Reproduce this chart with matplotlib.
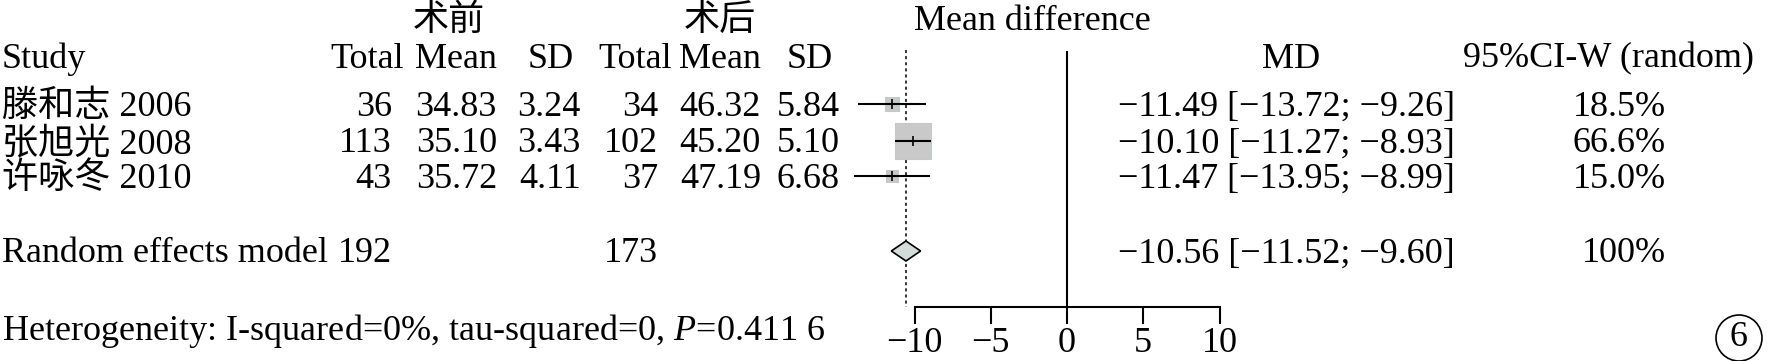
import matplotlib
matplotlib.use('Agg')
import matplotlib.pyplot as plt

plt.rcParams['font.family'] = ['Liberation Serif', 'Noto Sans CJK SC']
plt.rcParams['mathtext.fontset'] = 'custom'
plt.rcParams['mathtext.rm'] = 'Liberation Serif'
plt.rcParams['mathtext.it'] = 'Liberation Serif:italic'

# data
studies = ['滕和志 2006', '张旭光 2008', '许咏冬 2010']
n_pre = [36, 113, 43]
mean_pre = [34.83, 35.10, 35.72]
sd_pre = [3.24, 3.43, 4.11]
n_post = [34, 102, 37]
mean_post = [46.32, 45.20, 47.19]
sd_post = [5.84, 5.10, 6.68]
md = [-11.49, -10.10, -11.47]
md_lo = [-13.72, -11.27, -13.95]
md_hi = [-9.26, -8.93, -8.99]
weights = [18.5, 66.6, 15.0]
pooled = -10.56
pooled_lo = -11.52
pooled_hi = -9.60
total_pre = 192
total_post = 173
ticks = [-10, -5, 0, 5, 10]
het_text = 'Heterogeneity: I-squared=0%, tau-squared=0, $\\mathit{P}$=0.411 6'

W, H = 1771, 361
FS = 26
fig = plt.figure(figsize=(W / 100, H / 100), dpi=100)

# text layer, pixel coordinates
tx = fig.add_axes([0, 0, 1, 1])
tx.set_xlim(0, W)
tx.set_ylim(H, 0)
tx.axis('off')

# forest layer, x in MD units, bottom spine is the scale
AXIS_Y = 307
X0 = 1067
PPU = 15.25
ax = fig.add_axes([0, (H - AXIS_Y) / H, 1, AXIS_Y / H])
ax.set_xlim(-X0 / PPU, (W - X0) / PPU)
ax.set_ylim(AXIS_Y, 0)
ax.patch.set_visible(False)
for s in ['top', 'left', 'right']:
    ax.spines[s].set_visible(False)
ax.spines['bottom'].set_bounds(ticks[0], ticks[-1])
ax.spines['bottom'].set_linewidth(1.5)
ax.set_yticks([])
ax.set_xticks(ticks)
ax.tick_params(axis='x', direction='out', length=12, width=1.5, pad=2.5, labelsize=FS)

row_y = [107, 144, 179]
pool_y = 254

def fmt_ci(m, lo, hi):
    s = '%.2f [%.2f; %.2f]' % (m, lo, hi)
    return s.replace('-', '\u2212')

# headers
tx.text(449, 21, '术前', ha='center', va='center', fontsize=FS)
tx.text(720, 21, '术后', ha='center', va='center', fontsize=FS)
tx.text(1032, 21, 'Mean difference', ha='center', va='center', fontsize=FS)
hy = 59
tx.text(2, hy, 'Study', ha='left', va='center', fontsize=FS)
tx.text(404, hy, 'Total', ha='right', va='center', fontsize=FS)
tx.text(497, hy, 'Mean', ha='right', va='center', fontsize=FS)
tx.text(574, hy, 'SD', ha='right', va='center', fontsize=FS)
tx.text(672, hy, 'Total', ha='right', va='center', fontsize=FS)
tx.text(761, hy, 'Mean', ha='right', va='center', fontsize=FS)
tx.text(833, hy, 'SD', ha='right', va='center', fontsize=FS)
tx.text(1291, hy, 'MD', ha='center', va='center', fontsize=FS)
tx.text(1463, hy, '95%CI-W (random)', ha='left', va='center', fontsize=FS)

for i in range(len(studies)):
    y = row_y[i]
    tx.text(2, y, studies[i], ha='left', va='center', fontsize=FS)
    tx.text(392, y, str(n_pre[i]), ha='right', va='center', fontsize=FS)
    tx.text(497, y, '%.2f' % mean_pre[i], ha='right', va='center', fontsize=FS)
    tx.text(581, y, '%.2f' % sd_pre[i], ha='right', va='center', fontsize=FS)
    tx.text(658, y, str(n_post[i]), ha='right', va='center', fontsize=FS)
    tx.text(761, y, '%.2f' % mean_post[i], ha='right', va='center', fontsize=FS)
    tx.text(840, y, '%.2f' % sd_post[i], ha='right', va='center', fontsize=FS)
    tx.text(1455, y, fmt_ci(md[i], md_lo[i], md_hi[i]), ha='right', va='center', fontsize=FS)
    tx.text(1666, y, '%.1f%%' % weights[i], ha='right', va='center', fontsize=FS)

    ax.plot(md[i], y - 3, marker='s', ms=1.35 * weights[i] ** 0.7, color='#c9c9c9',
            mec='#bfcaca', mew=0.8, zorder=2)
    ax.hlines(y - 3, md_lo[i], md_hi[i], color='black', lw=1.5, zorder=3)
    ax.plot(md[i], y - 3, marker='|', ms=7, mew=1.2, color='black', zorder=4)

tx.text(2, pool_y, 'Random effects model', ha='left', va='center', fontsize=FS)
tx.text(392, pool_y, str(total_pre), ha='right', va='center', fontsize=FS)
tx.text(658, pool_y, str(total_post), ha='right', va='center', fontsize=FS)
tx.text(1455, pool_y, fmt_ci(pooled, pooled_lo, pooled_hi), ha='right', va='center', fontsize=FS)
tx.text(1666, pool_y, '100%', ha='right', va='center', fontsize=FS)

py = pool_y - 3
ax.fill([pooled_lo, pooled, pooled_hi, pooled], [py, py - 10, py, py + 10],
        facecolor='#d3dcd9', edgecolor='black', lw=1.2, zorder=3)
ax.vlines(pooled, 50, AXIS_Y, colors='black', linestyles=(0, (2, 2)), lw=1.1, zorder=1)
ax.vlines(0, 51, AXIS_Y, colors='black', lw=1.5, zorder=1)

tx.text(2, 331, het_text, ha='left', va='center', fontsize=FS)

tx.text(1739, 338, '6', ha='center', va='center', fontsize=FS,
        bbox=dict(boxstyle='circle,pad=0.18', fc='none', ec='black', lw=1.2))

fig.savefig('out.png', dpi=100)
